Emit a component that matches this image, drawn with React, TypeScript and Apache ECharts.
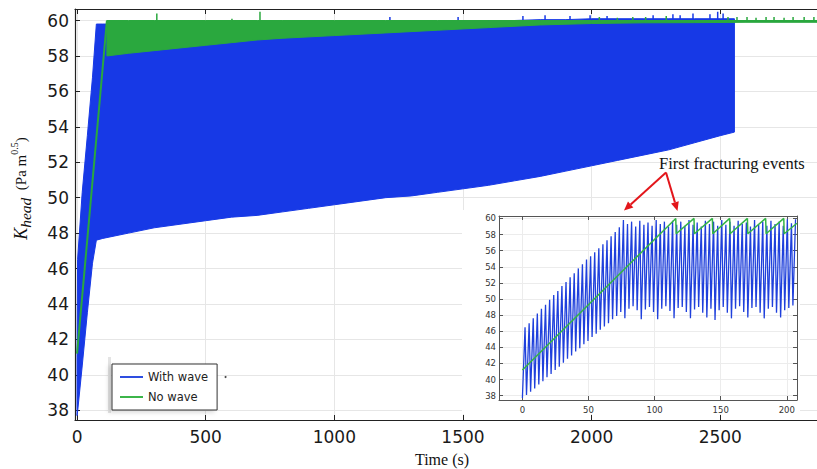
import React, { useEffect, useRef } from 'react';
import * as echarts from 'echarts';

// ---------- Main chart data (time in s, K_head in Pa m^0.5) ----------
// "With wave": envelope of the dense oscillation (lower / upper)
const bandTime = [0, 2, 20, 40, 60, 75, 100, 200, 300, 400, 500, 600, 700, 800, 900, 1000, 1100, 1200, 1300, 1400, 1500, 1600, 1700, 1800, 1900, 2000, 2100, 2200, 2300, 2400, 2500, 2555];
const withWaveLow = [37.7, 37.9, 40.5, 43.5, 46.3, 47.6, 47.7, 48.0, 48.3, 48.5, 48.7, 48.9, 49.0, 49.2, 49.4, 49.6, 49.8, 50.0, 50.1, 50.3, 50.5, 50.7, 50.95, 51.2, 51.5, 51.8, 52.1, 52.4, 52.7, 53.1, 53.5, 53.7];
const withWaveHigh = [41.0, 46.5, 50.3, 53.5, 56.8, 59.8, 59.8, 59.8, 59.8, 59.8, 59.8, 59.8, 59.8, 59.8, 59.85, 59.85, 59.85, 59.9, 59.9, 59.95, 59.95, 60.0, 60.0, 60.05, 60.05, 60.1, 60.1, 60.1, 60.1, 60.1, 60.1, 60.1];
const withWaveSpikeTime = [1216, 1481, 1733, 1819, 1916, 1994, 2060, 2239, 2316, 2344, 2394, 2460, 2490, 2511];
const withWaveSpikeTop = [60.2, 60.2, 60.25, 60.3, 60.25, 60.3, 60.25, 60.3, 60.35, 60.3, 60.4, 60.35, 60.5, 60.4];

// "No wave": initial ramp, then saw-tooth band (lower / upper), plus spikes
const noWaveRampTime = [0, 116];
const noWaveRamp = [41.2, 60.0];
const noWaveBandTime = [116, 200, 300, 400, 500, 600, 700, 800, 1000, 1200, 1400, 1600, 1800, 2000, 2200, 2400, 2600, 2876];
const noWaveLow = [58.0, 58.15, 58.3, 58.45, 58.6, 58.75, 58.9, 59.0, 59.15, 59.3, 59.45, 59.6, 59.75, 59.83, 59.87, 59.88, 59.9, 59.9];
const noWaveHigh = [60.0, 60.0, 60.0, 60.0, 60.0, 60.0, 60.0, 60.0, 60.0, 60.0, 60.0, 60.0, 60.0, 60.0, 60.0, 60.0, 60.0, 60.0];
const noWaveSpikeTime = [310, 602, 711, 2030, 2100, 2160, 2210, 2290, 2530, 2565, 2604, 2639, 2678, 2709, 2748, 2783, 2826, 2864];
const noWaveSpikeTop = [60.4, 60.1, 60.5, 60.2, 60.15, 60.2, 60.2, 60.25, 60.2, 60.2, 60.2, 60.15, 60.2, 60.2, 60.15, 60.2, 60.2, 60.2];

// ---------- Inset data (first 200 s) ----------
const insetCycleTime = [0, 3.1, 6.2, 9.3, 12.4, 15.5, 18.6, 21.7, 24.8, 27.9, 31, 34.1, 37.2, 40.3, 43.4, 46.5, 49.6, 52.7, 55.8, 58.9, 62, 65.1, 68.2, 71.3, 74.4, 77.5, 80.6, 83.7, 86.8, 89.9, 93, 96.1, 99.2, 102.3, 105.4, 108.5, 111.6, 114.7, 117.8, 120.9, 124, 127.1, 130.2, 133.3, 136.4, 139.5, 142.6, 145.7, 148.8, 151.9, 155, 158.1, 161.2, 164.3, 167.4, 170.5, 173.6, 176.7, 179.8, 182.9, 186, 189.1, 192.2, 195.3, 198.4, 201.5, 204.6];
const insetRise = 2.0;
const insetTrough = [37.7, 38.1, 38.5, 38.9, 39.4, 39.8, 40.3, 40.7, 41.2, 41.6, 42.1, 42.6, 43.0, 43.5, 43.9, 44.4, 44.8, 45.3, 45.7, 46.2, 46.6, 47.0, 47.5, 47.9, 48.4, 47.6, 48.8, 49.1, 48.6, 47.5, 48.7, 49.0, 48.4, 47.5, 48.8, 49.1, 48.5, 47.6, 48.9, 49.0, 48.4, 47.6, 48.7, 49.0, 48.3, 47.7, 48.8, 47.4, 48.6, 49.0, 48.3, 47.6, 48.8, 49.1, 48.4, 47.7, 48.9, 49.0, 48.3, 47.6, 48.8, 49.0, 48.3, 47.7, 48.6, 48.9, 49.2];
const insetPeak = [46.5, 47.0, 47.6, 48.2, 48.8, 49.3, 49.9, 50.5, 51.0, 51.6, 52.1, 52.7, 53.2, 53.8, 54.3, 54.9, 55.3, 55.8, 56.3, 56.8, 57.3, 57.8, 58.3, 58.9, 59.8, 59.3, 59.6, 59.0, 59.7, 59.2, 59.5, 59.1, 59.8, 59.3, 59.6, 59.0, 59.7, 59.2, 59.6, 59.1, 59.8, 59.2, 59.5, 59.0, 59.7, 59.3, 59.6, 59.1, 59.8, 59.2, 59.6, 59.1, 59.7, 59.3, 59.5, 59.0, 59.8, 59.2, 59.6, 59.1, 59.7, 59.3, 59.6, 59.1, 59.9, 59.4, 59.9];
const insetNoWaveTime = [0, 116, 116.3, 129.8, 130.1, 143.7, 144, 156.8, 157.1, 170.2, 170.5, 184, 184.3, 197.7, 198, 207.7];
const insetNoWave = [41.2, 60, 58.1, 60, 58.1, 60, 58.1, 60, 58.1, 60, 58.1, 60, 58.1, 60, 58.1, 59.4];

// ---------- Styles ----------
const BLUE = '#1739e6';
const GREEN = '#2aa83e';
const INSET_BLUE = '#1f40dc';
const INSET_GREEN = '#35b446';
const LEGEND_BLUE = '#2e4ee0';
const LEGEND_GREEN = '#3cb54a';
const SANS = 'DejaVu Sans';
const SERIF = '"Liberation Serif", "Times New Roman", serif';

const plain = (v: number) => String(v);

const spikeData = (ts: number[], tops: number[], base: number) =>
  ts.flatMap((t, i) => [[t, base], [t, tops[i]], [t, '-']]);

const bandSeries = (name: string, xs: number[], lo: number[], hi: number[], color: string, z: number) => ({
  type: 'custom',
  name,
  xAxisIndex: 0,
  yAxisIndex: 0,
  z,
  silent: true,
  itemStyle: { color },
  data: [[xs[0], lo[0]]],
  renderItem: (_params: any, api: any) => {
    const pts: number[][] = [];
    for (let i = 0; i < xs.length; i++) pts.push(api.coord([xs[i], hi[i]]));
    for (let i = xs.length - 1; i >= 0; i--) pts.push(api.coord([xs[i], lo[i]]));
    return { type: 'polygon', shape: { points: pts }, style: { fill: color, stroke: color, lineWidth: 1 } };
  },
});

function arrow(x1: number, y1: number, x2: number, y2: number, color: string) {
  const dx = x2 - x1, dy = y2 - y1, len = Math.hypot(dx, dy);
  const ux = dx / len, uy = dy / len;
  const hl = 9, hw = 4;
  const bx = x2 - ux * hl, by = y2 - uy * hl;
  return [
    { type: 'line', z: 40, shape: { x1, y1, x2: bx, y2: by }, style: { stroke: color, lineWidth: 2 } },
    { type: 'polygon', z: 40, shape: { points: [[x2, y2], [bx - uy * hw, by + ux * hw], [bx + uy * hw, by - ux * hw]] }, style: { fill: color } },
  ];
}

const mainAxisCommon = {
  axisLine: { show: true, onZero: false, lineStyle: { color: '#222', width: 1.2 } },
  axisTick: { show: true, inside: true, length: 5, lineStyle: { color: '#222' } },
};
const insetAxisCommon = {
  z: 20,
  axisLine: { show: true, onZero: false, lineStyle: { color: '#555', width: 1 } },
  axisTick: { show: true, inside: true, length: 4, lineStyle: { color: '#555' } },
};

const option: any = {
  animation: false,
  backgroundColor: '#ffffff',
  grid: [
    { left: 75, top: 9, right: 0, bottom: 49 },
    { left: 499, top: 216, width: 298, height: 184, z: 20 },
  ],
  xAxis: [
    {
      type: 'value', gridIndex: 0, position: 'bottom', min: -8, max: 2876, splitNumber: 6, minInterval: 500, maxInterval: 500,
      ...mainAxisCommon,
      axisLabel: { fontSize: 17, fontFamily: SANS, color: '#1a1a1a', margin: 8, showMinLabel: false, showMaxLabel: false, formatter: plain },
      splitLine: { show: true, lineStyle: { color: '#e6e6e6' } },
    },
    {
      type: 'value', gridIndex: 0, position: 'top', min: -8, max: 2876, splitNumber: 6, minInterval: 500, maxInterval: 500,
      ...mainAxisCommon,
      axisLabel: { show: false },
      splitLine: { show: false },
    },
    {
      type: 'value', gridIndex: 1, position: 'bottom', min: -17.7, max: 207.7, splitNumber: 5, minInterval: 50, maxInterval: 50,
      ...insetAxisCommon,
      axisLabel: { fontSize: 8.5, fontFamily: SANS, color: '#333', margin: 5, showMinLabel: false, showMaxLabel: false, formatter: plain },
      splitLine: { show: true, lineStyle: { color: '#ececec' } },
    },
    {
      type: 'value', gridIndex: 1, position: 'top', min: -17.7, max: 207.7, splitNumber: 5, minInterval: 50, maxInterval: 50,
      ...insetAxisCommon,
      axisLabel: { show: false },
      splitLine: { show: false },
    },
  ],
  yAxis: [
    {
      type: 'value', gridIndex: 0, position: 'left', min: 37.45, max: 60.65, splitNumber: 12, minInterval: 2, maxInterval: 2,
      ...mainAxisCommon,
      axisLabel: { fontSize: 17, fontFamily: SANS, color: '#1a1a1a', margin: 6, showMinLabel: false, showMaxLabel: false, formatter: plain },
      splitLine: { show: true, lineStyle: { color: '#e6e6e6' } },
    },
    {
      type: 'value', gridIndex: 1, position: 'left', min: 37.47, max: 60.3, splitNumber: 12, minInterval: 2, maxInterval: 2,
      ...insetAxisCommon,
      axisLabel: { fontSize: 8.5, fontFamily: SANS, color: '#333', margin: 3, showMinLabel: false, showMaxLabel: false, formatter: plain },
      splitLine: { show: true, lineStyle: { color: '#ececec' } },
    },
    {
      type: 'value', gridIndex: 1, position: 'right', min: 37.47, max: 60.3, splitNumber: 12, minInterval: 2, maxInterval: 2,
      ...insetAxisCommon,
      axisLabel: { show: false },
      splitLine: { show: false },
    },
  ],
  legend: {
    left: 112, top: 364, orient: 'vertical', padding: [7, 9, 7, 8], itemWidth: 23, itemHeight: 2, itemGap: 8,
    backgroundColor: '#fff', borderColor: '#333', borderWidth: 1,
    shadowColor: 'rgba(0,0,0,0.15)', shadowBlur: 4, shadowOffsetX: -3, shadowOffsetY: 2,
    textStyle: { fontFamily: SANS, fontSize: 11.5, color: '#222' },
    selectedMode: false,
    data: [
      { name: 'With wave', icon: 'rect', itemStyle: { color: LEGEND_BLUE } },
      { name: 'No wave', icon: 'rect', itemStyle: { color: LEGEND_GREEN } },
    ],
  },
  series: [
    bandSeries('With wave', bandTime, withWaveLow, withWaveHigh, BLUE, 2),
    bandSeries('No wave', noWaveBandTime, noWaveLow, noWaveHigh, GREEN, 3),
    {
      type: 'line', name: 'No wave', xAxisIndex: 0, yAxisIndex: 0, z: 3, symbol: 'none', silent: true,
      lineStyle: { color: GREEN, width: 2 }, itemStyle: { color: GREEN },
      data: noWaveRampTime.map((t, i) => [t, noWaveRamp[i]]),
    },
    {
      type: 'line', name: 'With wave', xAxisIndex: 0, yAxisIndex: 0, z: 2, symbol: 'none', silent: true, connectNulls: false,
      lineStyle: { color: BLUE, width: 1.5 }, itemStyle: { color: BLUE },
      data: spikeData(withWaveSpikeTime, withWaveSpikeTop, 60.0),
    },
    {
      type: 'line', name: 'No wave', xAxisIndex: 0, yAxisIndex: 0, z: 3, symbol: 'none', silent: true, connectNulls: false,
      lineStyle: { color: GREEN, width: 1.5 }, itemStyle: { color: GREEN },
      data: spikeData(noWaveSpikeTime, noWaveSpikeTop, 59.95),
    },
    {
      type: 'line', name: 'With wave', xAxisIndex: 2, yAxisIndex: 1, z: 21, symbol: 'none', silent: true,
      lineStyle: { color: INSET_BLUE, width: 1.3 }, itemStyle: { color: INSET_BLUE },
      data: insetCycleTime.flatMap((t, i) => [[t, insetTrough[i]], [t + insetRise, insetPeak[i]]]),
    },
    {
      type: 'line', name: 'No wave', xAxisIndex: 2, yAxisIndex: 1, z: 22, symbol: 'none', silent: true,
      lineStyle: { color: INSET_GREEN, width: 1.5 }, itemStyle: { color: INSET_GREEN },
      data: insetNoWaveTime.map((t, i) => [t, insetNoWave[i]]),
    },
  ],
  graphic: [
    { type: 'rect', z: 10, silent: true, shape: { x: 462, y: 210, width: 338, height: 204 }, style: { fill: '#ffffff' } },
    { type: 'rect', z: 3, silent: true, shape: { x: 108, y: 357, width: 3, height: 56 }, style: { fill: '#e4e4e4' } },
    { type: 'circle', z: 5, silent: true, shape: { cx: 225.5, cy: 377, r: 1 }, style: { fill: '#444' } },
    {
      type: 'text', z: 40, x: 21, y: 188.5, rotation: Math.PI / 2, silent: true,
      style: {
        text: '{k|K}{s|head}{n|  (Pa m}{p|0.5}{n|)}',
        align: 'center', verticalAlign: 'middle', fill: '#111',
        rich: {
          k: { fontFamily: SERIF, fontStyle: 'italic', fontSize: 18, lineHeight: 24, verticalAlign: 'middle', fill: '#111' },
          s: { fontFamily: SERIF, fontStyle: 'italic', fontSize: 15.5, lineHeight: 16, verticalAlign: 'bottom', fill: '#111' },
          n: { fontFamily: SERIF, fontSize: 15, lineHeight: 24, verticalAlign: 'middle', fill: '#111' },
          p: { fontFamily: SERIF, fontSize: 10, lineHeight: 12, verticalAlign: 'top', fill: '#111' },
        },
      },
    },
    {
      type: 'text', z: 40, x: 442, y: 459, silent: true,
      style: { text: 'Time (s)', fontFamily: SERIF, fontSize: 16, fill: '#111', align: 'center', verticalAlign: 'middle' },
    },
    {
      type: 'text', z: 40, x: 659, y: 163, silent: true,
      style: { text: 'First fracturing events', fontFamily: SERIF, fontSize: 16.5, fill: '#111', align: 'left', verticalAlign: 'middle' },
    },
    ...arrow(666, 172.5, 624, 210.5, '#e3161b'),
    ...arrow(666, 172.5, 677.5, 211, '#e3161b'),
  ],
};

export default function App() {
  const ref = useRef<HTMLDivElement>(null);
  useEffect(() => {
    if (!ref.current) return;
    const chart = echarts.init(ref.current, null, { renderer: 'svg' });
    chart.setOption(option);
    return () => chart.dispose();
  }, []);
  return (
    <div
      ref={ref}
      style={{ position: 'fixed', left: 0, top: 0, width: 817, height: 469, background: '#fff' }}
    />
  );
}
